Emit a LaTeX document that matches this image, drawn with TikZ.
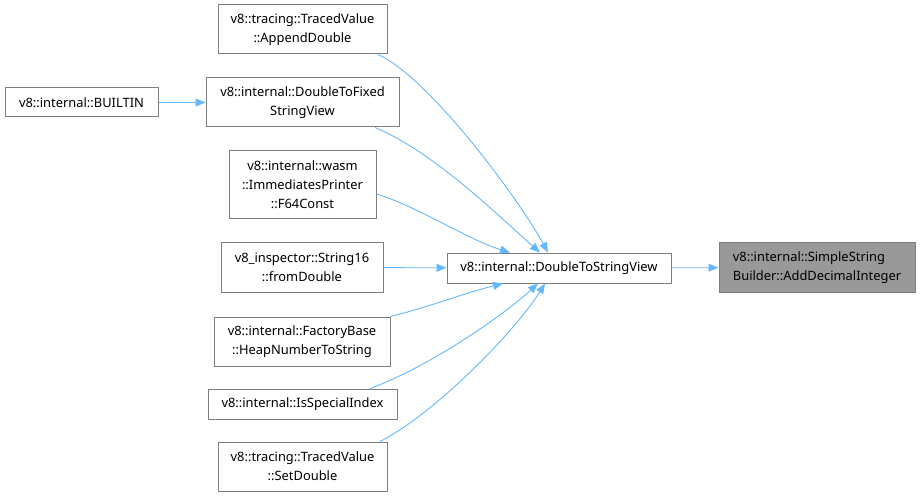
\documentclass[tikz,border=0pt]{standalone}
\usepackage{fontspec}
\setmainfont{Noto Sans}
\usepackage{tikz}
\usepackage{xcolor}
\usetikzlibrary{arrows.meta,positioning}
\definecolor{EdgeBlue}{HTML}{63B8FF}
\definecolor{BoxLine}{HTML}{7F7F7F}
\definecolor{TargetFill}{HTML}{999999}
\tikzset{
  fnbox/.style={draw=BoxLine, fill=white, line width=1pt, align=center, inner sep=2pt, font=\fontsize{12.9}{19}\selectfont},
  fntarget/.style={fnbox, fill=TargetFill, align=left},
  callarrow/.style={-{Triangle[length=10pt,width=8pt]}, line width=0.9pt, draw=EdgeBlue}
}
\begin{document}
\begin{tikzpicture}[x=1pt,y=-1pt]
  \useasboundingbox (0,0) rectangle (921,497);
  \node[fnbox, minimum width=169, minimum height=49] (append) at (302.5,29.5) {v8::tracing::TracedValue\\::AppendDouble};
  \node[fnbox, minimum width=193, minimum height=49] (fixed) at (302.5,102.5) {v8::internal::DoubleToFixed\\StringView};
  \node[fnbox, minimum width=153, minimum height=29] (builtin) at (81.5,102.5) {v8::internal::BUILTIN};
  \node[fnbox, minimum width=147, minimum height=68] (f64) at (302.5,185) {v8::internal::wasm\\::ImmediatesPrinter\\::F64Const};
  \node[fnbox, minimum width=162, minimum height=49] (string16) at (302,267.5) {v8\_inspector::String16\\::fromDouble};
  \node[fnbox, minimum width=176, minimum height=49] (heapnum) at (302,341.5) {v8::internal::FactoryBase\\::HeapNumberToString};
  \node[fnbox, minimum width=189, minimum height=30] (special) at (302.5,404) {v8::internal::IsSpecialIndex};
  \node[fnbox, minimum width=169, minimum height=49] (setdouble) at (302.5,466.5) {v8::tracing::TracedValue\\::SetDouble};
  \node[fnbox, minimum width=224, minimum height=30] (dtsv) at (559,268) {v8::internal::DoubleToStringView};
  \node[fntarget, minimum width=196, minimum height=49] (adddec) at (817,267.5) {v8::internal::SimpleString\\Builder::AddDecimalInteger};

  \draw[callarrow] (builtin) -- (fixed);
  \draw[callarrow] (string16) -- (dtsv);
  \draw[callarrow] (dtsv) -- (adddec);
  \draw[callarrow] ([xshift=75.5pt]append.south) .. controls +(50,22) and +(-30,-55) .. ([xshift=-11pt]dtsv.north);
  \draw[callarrow] ([xshift=72.5pt]fixed.south) .. controls +(60,25) and +(-40,-35) .. ([xshift=-19pt]dtsv.north);
  \draw[callarrow] ([yshift=-9pt]f64.east) .. controls +(40,12) and +(-40,-12) .. ([xshift=-49pt]dtsv.north);
  \draw[callarrow] (heapnum.north east) .. controls +(40,-10) and +(-40,10) .. ([xshift=-56pt]dtsv.south);
  \draw[callarrow] ([xshift=67.5pt]special.north) .. controls +(60,-22) and +(-35,32) .. ([xshift=-21pt]dtsv.south);
  \draw[callarrow] ([xshift=77.5pt]setdouble.north) .. controls +(55,-28) and +(-30,48) .. ([xshift=-14pt]dtsv.south);
\end{tikzpicture}
\end{document}
